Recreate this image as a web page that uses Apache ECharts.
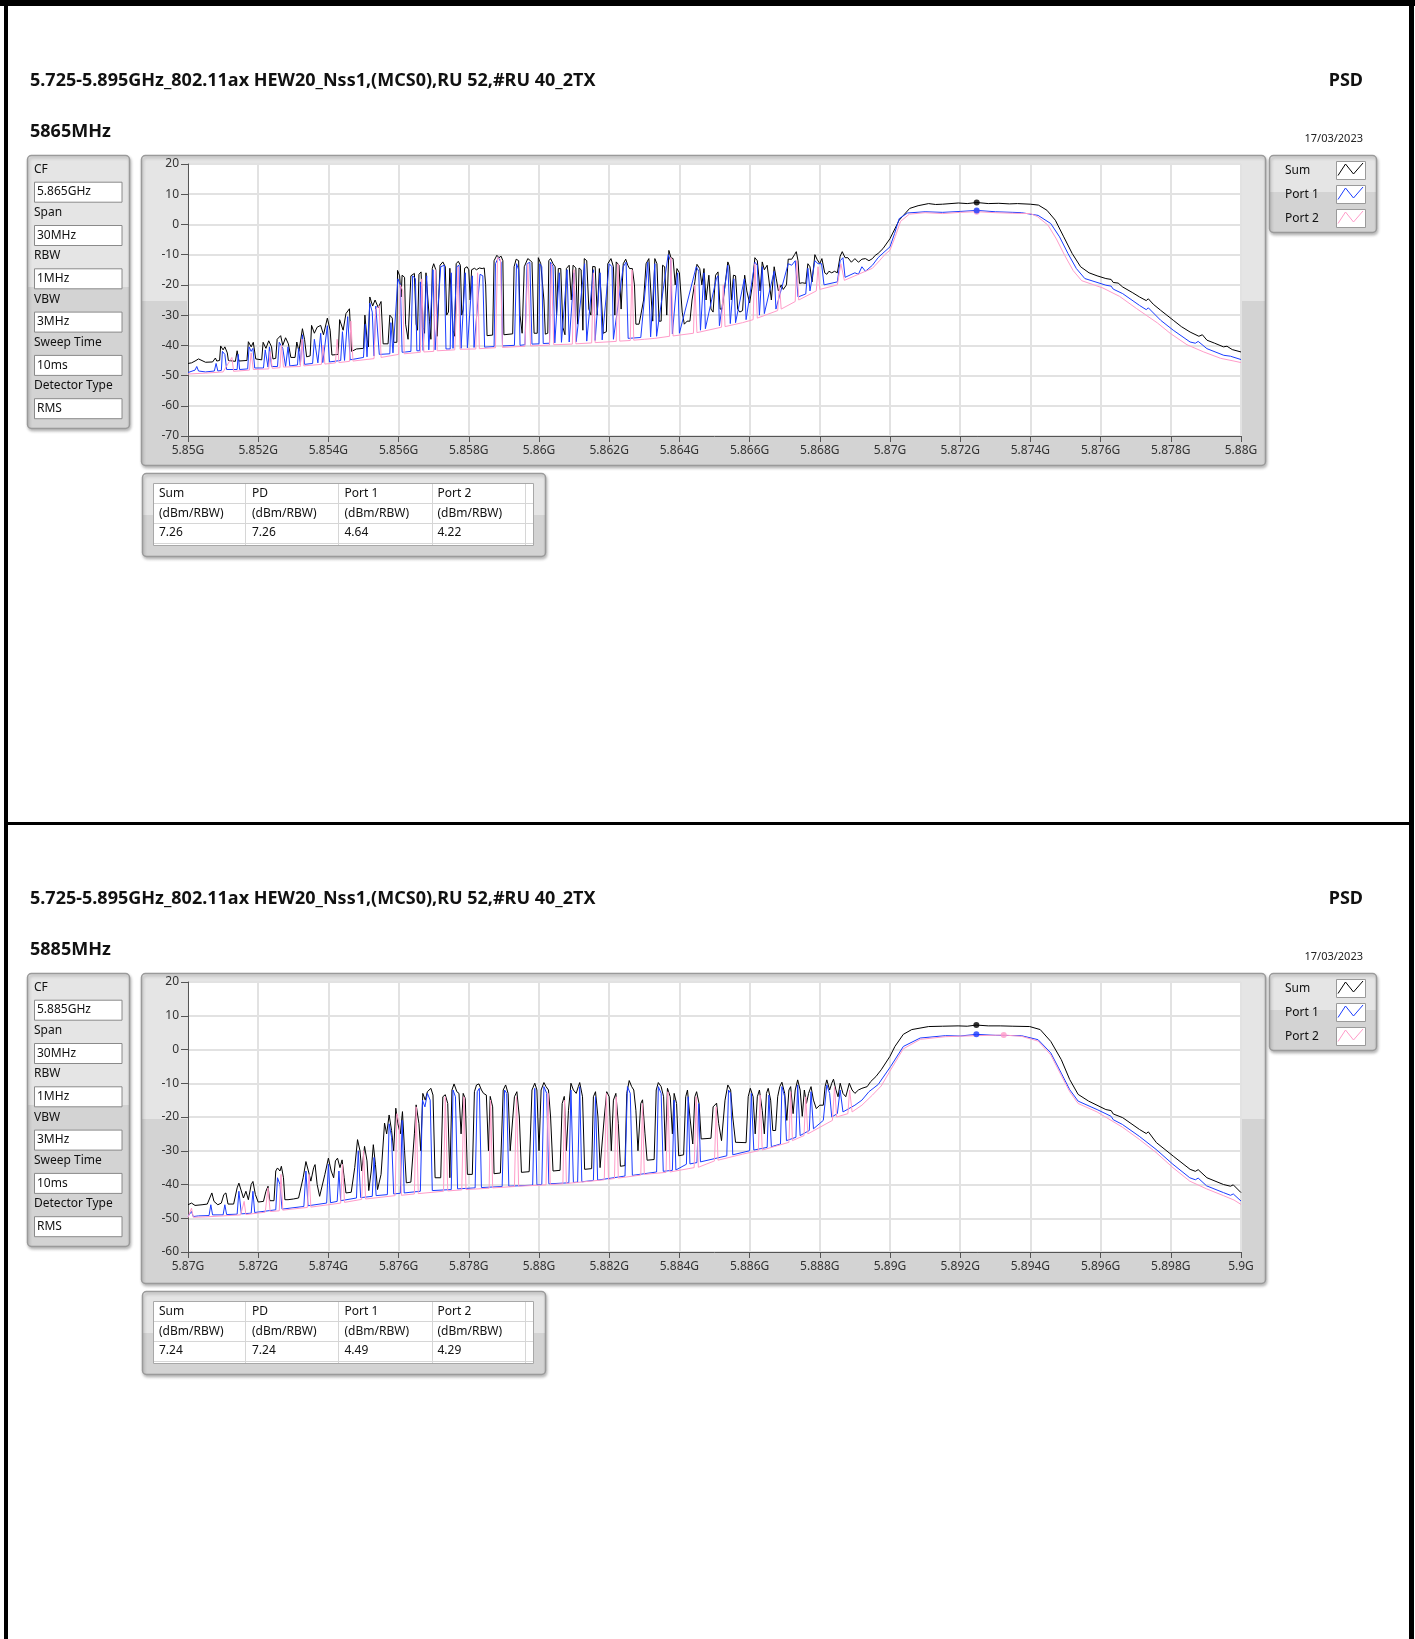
<!DOCTYPE html>
<html>
<head>
<meta charset="utf-8">
<script src="https://cdn.jsdelivr.net/npm/echarts@6/dist/echarts.min.js"></script>
<style>
  html, body { margin: 0; padding: 0; background: #fff; }
  #container { width: 1415px; height: 1639px; }
</style>
</head>
<body>
<div id="container"></div>
<script>
// ---------------- data ----------------
var PANEL_TITLE = '5.725-5.895GHz_802.11ax HEW20_Nss1,(MCS0),RU 52,#RU 40_2TX';
var CHANNELS = ['5865MHz', '5885MHz'];
var DATE_TEXT = '17/03/2023';
var PARAM_NAMES = ['CF', 'Span', 'RBW', 'VBW', 'Sweep Time', 'Detector Type'];
var PARAMS_1 = ['5.865GHz', '30MHz', '1MHz', '3MHz', '10ms', 'RMS'];
var PARAMS_2 = ['5.885GHz', '30MHz', '1MHz', '3MHz', '10ms', 'RMS'];
var LEGEND_NAMES = ['Sum', 'Port 1', 'Port 2'];
var TABLE_HEAD = ['Sum', 'PD', 'Port 1', 'Port 2'];
var TABLE_UNIT = '(dBm/RBW)';
var TABLE_1 = ['7.26', '7.26', '4.64', '4.22'];
var TABLE_2 = ['7.24', '7.24', '4.49', '4.29'];
var X_RANGE_1 = [5850, 5880];   // MHz
var X_RANGE_2 = [5870, 5900];
var Y_RANGE_1 = [-70, 20];      // dBm
var Y_RANGE_2 = [-60, 20];

// chart 1 (5865MHz) traces, [MHz, dBm]
var C1_SUM = [
[5850.0,-46.0],[5850.1,-45.8],[5850.2,-45.2],[5850.3,-44.5],[5850.35,-45.0],[5850.5,-45.6],[5850.7,-45.5],[5850.78,-44.2],[5850.82,-45.2],
[5850.9,-45.0],[5850.93,-40.2],[5851.0,-41.5],[5851.05,-40.5],[5851.12,-42.5],[5851.15,-45.0],[5851.35,-45.3],[5851.4,-41.8],[5851.45,-45.2],
[5851.68,-45.0],[5851.72,-38.8],[5851.8,-40.5],[5851.86,-39.0],[5851.93,-44.5],[5852.1,-44.8],[5852.14,-39.0],[5852.22,-41.0],[5852.3,-38.5],
[5852.38,-40.5],[5852.42,-44.5],[5852.5,-44.3],[5852.54,-38.0],[5852.64,-36.8],[5852.7,-40.0],[5852.78,-37.5],[5852.86,-39.5],[5852.93,-44.0],
[5853.05,-44.0],[5853.1,-38.9],[5853.16,-42.0],[5853.26,-34.5],[5853.32,-38.0],[5853.38,-43.8],[5853.48,-43.5],[5853.52,-33.4],[5853.6,-36.0],
[5853.68,-34.0],[5853.78,-33.4],[5853.86,-36.5],[5853.97,-31.0],[5854.05,-35.0],[5854.1,-43.2],[5854.28,-43.0],[5854.32,-31.5],[5854.42,-35.0],
[5854.5,-29.5],[5854.6,-27.9],[5854.66,-42.0],[5854.8,-41.2],[5855.0,-41.0],[5855.04,-30.0],[5855.1,-38.0],[5855.14,-40.5],[5855.18,-24.0],
[5855.26,-27.0],[5855.33,-25.0],[5855.42,-27.5],[5855.5,-25.5],[5855.56,-39.5],[5855.7,-39.5],[5855.75,-30.0],[5855.82,-31.0],[5855.86,-39.0],
[5855.95,-39],[5855.97,-15.2],[5856.03,-17],[5856.07,-24],[5856.1,-16.8],[5856.17,-17.5],[5856.2,-33],[5856.27,-38],[5856.32,-37.5],[5856.35,-17],
[5856.45,-16.2],[5856.5,-33],[5856.54,-35],[5856.58,-16.5],[5856.64,-15.7],[5856.7,-34],[5856.74,-36],[5856.78,-16],[5856.83,-15.7],[5856.88,-32],
[5856.92,-38],[5856.96,-14.5],[5857.0,-13],[5857.06,-15],[5857.1,-37],[5857.14,-36.5],[5857.18,-13.5],[5857.26,-12.4],[5857.33,-14],[5857.37,-30],
[5857.42,-29],[5857.46,-14.5],[5857.5,-14],[5857.55,-35],[5857.6,-37],[5857.64,-13],[5857.7,-12.2],[5857.76,-13.5],[5857.8,-30],[5857.84,-28],
[5857.88,-14.5],[5857.95,-14],[5858.0,-15],[5858.04,-25],[5858.08,-15],[5858.16,-14.5],[5858.22,-15],[5858.3,-14.4],[5858.38,-14.6],[5858.44,-14.4],
[5858.48,-20],[5858.52,-36.8],[5858.68,-36.6],[5858.72,-12],[5858.8,-10.2],[5858.86,-11],[5858.92,-10.5],[5858.97,-12],[5859.0,-36.5],[5859.25,-36.2],
[5859.29,-14],[5859.35,-11.5],[5859.42,-12],[5859.46,-30],[5859.52,-36],[5859.58,-14],[5859.68,-11.3],[5859.74,-11.8],[5859.8,-12.5],[5859.86,-36],
[5859.95,-36],[5859.98,-11],[5860.05,-13],[5860.1,-12.5],[5860.14,-25],[5860.18,-36.3],[5860.25,-36],[5860.28,-12],[5860.33,-11.3],[5860.4,-13],
[5860.46,-14],[5860.5,-30],[5860.55,-14.6],[5860.62,-14.6],[5860.68,-34],[5860.74,-36.5],[5860.78,-14.6],[5860.86,-13.5],[5860.92,-25],[5860.97,-13.5],
[5861.05,-14.4],[5861.1,-33],[5861.14,-14.4],[5861.2,-15],[5861.25,-35],[5861.29,-11.3],[5861.36,-12],[5861.42,-28],[5861.48,-30],[5861.53,-13.9],
[5861.6,-14],[5861.66,-30],[5861.72,-14.6],[5861.78,-25],[5861.83,-36],[5861.92,-35.5],[5861.96,-13],[5862.05,-11.3],[5862.12,-14],[5862.16,-30],
[5862.2,-12.4],[5862.28,-13.5],[5862.34,-28],[5862.4,-13],[5862.47,-11.5],[5862.53,-13.5],[5862.58,-14.6],[5862.66,-14.6],[5862.72,-20],[5862.76,-33],
[5862.85,-33],[5862.9,-30],[5862.98,-25],[5863.05,-13],[5863.13,-11.3],[5863.2,-25],[5863.24,-32],[5863.3,-11.3],[5863.36,-13],[5863.42,-32],
[5863.48,-32],[5863.52,-13.5],[5863.58,-14],[5863.64,-30],[5863.7,-8.6],[5863.76,-11],[5863.82,-11.3],[5863.88,-20],[5863.93,-14.6],[5864.0,-16],
[5864.08,-29],[5864.14,-33],[5864.22,-32],[5864.3,-32],[5864.36,-25],[5864.44,-19],[5864.5,-13.2],[5864.58,-14.6],[5864.64,-20],[5864.7,-14.6],
[5864.76,-25],[5864.84,-16.8],[5864.9,-28],[5864.96,-29],[5865.03,-16.8],[5865.1,-15.7],[5865.16,-28],[5865.22,-28],[5865.3,-20],[5865.38,-12.4],
[5865.43,-14],[5865.48,-25],[5865.54,-16.8],[5865.6,-17],[5865.66,-28],[5865.72,-29],[5865.8,-28.5],[5865.86,-16.8],[5865.92,-22],[5866.0,-26],
[5866.08,-20],[5866.15,-11],[5866.22,-12],[5866.3,-22],[5866.36,-12.4],[5866.42,-15],[5866.5,-13.5],[5866.55,-14],[5866.62,-25],[5866.7,-14],
[5866.76,-18],[5866.82,-22],[5866.9,-20],[5866.96,-21.5],[5867.05,-20],[5867.1,-11.5],[5867.2,-11.5],[5867.28,-10],[5867.33,-9],[5867.38,-12],
[5867.42,-19.5],[5867.5,-19.3],[5867.6,-19.5],[5867.66,-13],[5867.72,-14],[5867.78,-19],[5867.86,-10],[5867.92,-11.5],[5868.0,-13],[5868.06,-11.3],
[5868.14,-16],[5868.2,-16.5],[5868.26,-15.5],[5868.34,-16],[5868.42,-15.5],[5868.5,-16],[5868.58,-10.5],[5868.64,-9],[5868.72,-11],[5868.8,-11],
[5868.9,-12.5],[5869.0,-11.3],[5869.1,-12.5],[5869.2,-11.5],[5869.3,-11.3],[5869.4,-12],[5869.5,-11.3],[5869.58,-10.2],[5869.66,-9.6],[5869.8,-8],
[5870.0,-4.7],[5870.26,1.4],[5870.56,5.3],[5870.8,6.2],[5871.1,6.9],[5871.3,6.6],[5871.5,6.7],[5871.95,7.1],[5872.2,6.9],[5872.47,7.26],
[5872.8,6.9],[5873.1,7.0],[5873.4,6.8],[5873.63,6.9],[5874.0,6.7],[5874.23,6.4],[5874.47,4.7],[5874.71,1.4],[5874.95,-4.1],[5875.19,-9.6],
[5875.43,-14],[5875.67,-16],[5875.9,-17],[5876.15,-17.9],[5876.3,-18.2],[5876.36,-19.2],[5876.5,-19.4],[5876.63,-20.7],[5876.9,-22.5],[5877.11,-24],
[5877.3,-25.2],[5877.36,-24.6],[5877.5,-26.4],[5877.71,-28.4],[5878.07,-31.7],[5878.3,-33.8],[5878.55,-35.6],[5878.8,-37],[5878.9,-36.5],[5879.03,-38.3],
[5879.25,-39.3],[5879.5,-40.5],[5879.6,-40.3],[5879.75,-41.4],[5880.0,-42.2]
];
var C1_P1 = [
[5850.0,-49],[5850.2,-48.2],[5850.25,-47],[5850.3,-48.5],[5850.5,-48.8],[5850.75,-48.5],[5850.8,-46],[5850.85,-48.5],[5850.95,-48.3],[5850.98,-42],
[5851.05,-43],[5851.1,-48],[5851.4,-48],[5851.43,-43],[5851.47,-48],[5851.7,-47.8],[5851.74,-40.5],[5851.8,-42],[5851.85,-41],[5851.9,-47.5],
[5852.15,-47.5],[5852.2,-41.5],[5852.28,-47.2],[5852.32,-40.5],[5852.38,-47],[5852.55,-47],[5852.6,-39],[5852.7,-41],[5852.78,-47],[5852.85,-40.5],
[5852.9,-46.8],[5853.12,-46.5],[5853.15,-41],[5853.2,-46.5],[5853.26,-36.5],[5853.32,-46.3],[5853.55,-46],[5853.6,-38],[5853.7,-45.8],[5853.78,-36],
[5853.84,-45.7],[5853.97,-33.5],[5854.03,-45.5],[5854.35,-45],[5854.4,-35.5],[5854.46,-45],[5854.55,-30.5],[5854.62,-44.8],[5855.0,-44],[5855.05,-33],
[5855.1,-43.8],[5855.18,-26],[5855.25,-29],[5855.3,-43.5],[5855.35,-27],[5855.45,-43],[5855.75,-42.8],[5855.78,-32.5],[5855.84,-42.5],[5855.98,-18],
[5856.05,-20],[5856.1,-42.3],[5856.2,-42.2],[5856.35,-42],[5856.4,-17],[5856.48,-18],[5856.52,-41.8],[5856.6,-41.8],[5856.62,-19],[5856.7,-41.7],
[5856.8,-17],[5856.86,-41.5],[5856.98,-15],[5857.04,-41.5],[5857.2,-14],[5857.3,-13.5],[5857.35,-41.2],[5857.47,-41.2],[5857.5,-16],[5857.55,-41],
[5857.66,-14],[5857.72,-13.5],[5857.78,-41],[5857.9,-16],[5857.96,-40.8],[5858.1,-17],[5858.15,-40.7],[5858.32,-16.5],[5858.4,-17],[5858.45,-40.6],
[5858.72,-40.4],[5858.76,-13],[5858.84,-11],[5858.92,-12.5],[5858.96,-40.2],[5859.3,-40],[5859.36,-13],[5859.42,-15],[5859.46,-40],[5859.6,-39.8],
[5859.66,-13],[5859.74,-12.5],[5859.8,-39.6],[5860.0,-39.5],[5860.02,-13],[5860.08,-14],[5860.12,-39.4],[5860.3,-39.3],[5860.33,-12.5],[5860.4,-14],
[5860.45,-39.2],[5860.58,-16],[5860.64,-39],[5860.8,-15],[5860.86,-38.9],[5861.0,-16],[5861.06,-38.8],[5861.3,-13],[5861.36,-38.6],[5861.55,-15],
[5861.6,-38.4],[5861.74,-16],[5861.8,-38.2],[5862.0,-13],[5862.08,-14],[5862.12,-38],[5862.4,-14],[5862.48,-12.5],[5862.54,-37.7],[5862.9,-37.4],
[5863.1,-12.5],[5863.18,-37.2],[5863.3,-13],[5863.35,-37],[5863.68,-10],[5863.75,-12],[5863.8,-36.2],[5863.95,-16],[5864.0,-36],[5864.48,-14],
[5864.55,-15.5],[5864.6,-35],[5864.7,-16],[5864.74,-34.5],[5865.05,-18],[5865.1,-17],[5865.14,-33.5],[5865.38,-13.5],[5865.45,-32.8],[5865.55,-18],
[5865.6,-32.5],[5865.85,-18],[5865.9,-31.5],[5866.15,-12.5],[5866.22,-13.5],[5866.28,-30],[5866.36,-14],[5866.42,-29.5],[5866.7,-15.5],[5866.75,-28],
[5867.1,-13],[5867.2,-13.5],[5867.3,-12],[5867.38,-24],[5867.6,-23],[5867.66,-14.5],[5867.72,-22],[5867.86,-12],[5867.95,-13],[5868.05,-13],
[5868.12,-20],[5868.5,-19],[5868.58,-12],[5868.66,-11],[5868.72,-17.5],[5869.0,-16],[5869.1,-16.5],[5869.2,-14],[5869.3,-15.5],[5869.5,-13.5],
[5869.66,-11],[5869.8,-9.5],[5870.0,-7.4],[5870.13,-3],[5870.26,1.9],[5870.5,3.8],[5871.0,4.2],[5871.5,4.0],[5872.0,4.3],[5872.47,4.64],
[5873.0,4.2],[5873.5,4.0],[5873.74,3.9],[5874.22,3.0],[5874.58,0.3],[5874.83,-4.1],[5875.07,-9.6],[5875.31,-14.6],[5875.55,-17.9],[5876.15,-20.1],
[5876.3,-20.4],[5876.36,-21.4],[5876.63,-22.9],[5877.11,-26.8],[5877.3,-28.2],[5877.36,-27.6],[5877.71,-31.7],[5878.07,-35],[5878.55,-38.9],[5878.7,-39.3],
[5878.78,-38.7],[5879.03,-41.1],[5879.51,-43.3],[5879.7,-43.6],[5880.0,-44.7]
];
var C1_P2 = [
[5850.0,-49.5],[5850.5,-49.2],[5851.0,-48.8],[5851.25,-44],[5851.3,-48.6],[5851.75,-48.2],[5851.8,-42.5],[5851.86,-48],[5852.3,-47.8],[5852.34,-42],
[5852.4,-47.6],[5852.62,-47.4],[5852.66,-40],[5852.72,-47.2],[5853.2,-47],[5853.25,-38],[5853.3,-46.8],[5853.8,-46.3],[5853.85,-40],[5853.9,-46.2],
[5854.2,-45.8],[5854.25,-38],[5854.3,-45.7],[5854.6,-45.3],[5854.64,-32],[5854.7,-45.2],[5855.3,-44.4],[5855.35,-28],[5855.45,-27],[5855.5,-44],
[5856.0,-43],[5856.05,-20],[5856.12,-22],[5856.16,-42.8],[5856.62,-42.3],[5856.66,-18],[5856.72,-42.2],[5857.0,-42],[5857.05,-15],[5857.1,-41.8],
[5857.6,-41.5],[5857.7,-14],[5857.75,-41.3],[5858.2,-41.2],[5858.25,-16],[5858.3,-41.1],[5858.76,-40.8],[5858.82,-11],[5858.9,-11.5],[5858.96,-40.7],
[5859.6,-40.3],[5859.68,-13],[5859.76,-40.2],[5860.3,-39.9],[5860.35,-13],[5860.42,-39.8],[5860.95,-39.6],[5861.0,-15],[5861.05,-39.5],[5861.5,-39.2],
[5861.55,-16],[5861.6,-39.1],[5862.2,-38.7],[5862.25,-13],[5862.3,-38.6],[5862.6,-38.4],[5862.65,-15],[5862.7,-38.3],[5863.0,-38],[5863.3,-37.7],
[5863.72,-37],[5863.76,-11],[5863.82,-36.9],[5864.4,-36],[5864.44,-20],[5864.5,-35.8],[5865.2,-34],[5865.25,-20],[5865.3,-33.8],[5865.8,-32.5],
[5866.1,-31.5],[5866.15,-13],[5866.22,-31],[5866.8,-28.5],[5866.85,-20],[5866.9,-28],[5867.3,-25.5],[5867.34,-12],[5867.4,-25],[5867.9,-22],
[5867.95,-14],[5868.0,-21.5],[5868.5,-20],[5868.6,-13],[5868.7,-18.5],[5869.0,-17],[5869.3,-15.5],[5869.5,-14.5],[5869.7,-12],[5869.85,-10],
[5870.0,-8.5],[5870.15,-4],[5870.3,1.0],[5870.55,3.4],[5871.0,3.9],[5871.5,3.6],[5872.0,4.0],[5872.47,4.22],[5873.0,3.9],[5873.5,3.7],
[5874.0,3.6],[5874.2,2.6],[5874.5,-0.2],[5874.74,-4.8],[5874.98,-10.3],[5875.22,-15.3],[5875.46,-18.6],[5876.06,-21],[5876.54,-23.8],[5877.02,-27.8],
[5877.62,-32.6],[5877.98,-36],[5878.46,-39.8],[5878.94,-42.2],[5879.42,-44.3],[5879.8,-45.2],[5880.0,-45.7]
];
var C1_PEAKS = [[5872.47, 7.26], [5872.47, 4.64], [5872.47, 4.22]];

// chart 2 (5885MHz) traces, [MHz, dBm]
var C2_SUM = [
[5870.0,-46],[5870.1,-45.5],[5870.2,-46.2],[5870.4,-46],[5870.55,-45.8],[5870.62,-44],[5870.68,-42.5],[5870.74,-45],[5870.85,-46],[5870.95,-45.5],
[5871.02,-43],[5871.08,-42.5],[5871.14,-45.8],[5871.3,-45.8],[5871.4,-41],[5871.45,-39.6],[5871.5,-40],[5871.58,-44],[5871.65,-42],[5871.72,-44.5],
[5871.8,-40],[5871.85,-39.1],[5871.92,-43],[5872.0,-45.2],[5872.15,-45],[5872.22,-42],[5872.28,-40.5],[5872.33,-44.8],[5872.45,-44.8],[5872.5,-36],
[5872.55,-35.1],[5872.62,-36],[5872.66,-34.6],[5872.72,-38],[5872.76,-44.5],[5872.85,-44.5],[5873.0,-44.3],[5873.15,-44],[5873.28,-38],[5873.36,-33.2],
[5873.43,-36],[5873.5,-39],[5873.58,-35],[5873.62,-34.1],[5873.68,-40],[5873.75,-43.5],[5873.9,-37],[5874.0,-32.2],[5874.08,-36],[5874.15,-38],
[5874.2,-33],[5874.26,-32.2],[5874.33,-35],[5874.39,-32.7],[5874.45,-38],[5874.5,-42.5],[5874.65,-42.3],[5874.75,-35],[5874.83,-26.7],[5874.9,-30],
[5874.95,-36],[5875.03,-28.7],[5875.1,-33],[5875.15,-41.8],[5875.22,-36],[5875.28,-28.2],[5875.34,-34],[5875.4,-41.5],[5875.5,-37],[5875.6,-21.8],
[5875.66,-25],[5875.73,-19.4],[5875.8,-24],[5875.86,-30],[5875.92,-17.4],[5875.98,-22],[5876.05,-25],[5876.11,-18.4],[5876.17,-30],[5876.22,-39.5],
[5876.35,-39.3],[5876.45,-25],[5876.5,-16.4],[5876.58,-22],[5876.63,-30],[5876.69,-13],[5876.76,-15],[5876.82,-12.5],[5876.92,-11.5],[5876.98,-13.5],
[5877.04,-38],[5877.2,-38],[5877.26,-14],[5877.33,-13.4],[5877.4,-16],[5877.46,-38],[5877.52,-12],[5877.58,-10.2],[5877.66,-12.5],[5877.72,-13],
[5877.78,-25],[5877.84,-13],[5877.9,-14.5],[5877.96,-37],[5878.1,-37],[5878.16,-12.5],[5878.22,-10.5],[5878.29,-10.2],[5878.36,-12],[5878.42,-13],
[5878.5,-13.5],[5878.56,-30],[5878.61,-13.9],[5878.68,-17],[5878.72,-36.8],[5878.9,-36.6],[5878.98,-12],[5879.05,-10.5],[5879.12,-13],[5879.18,-30],
[5879.3,-14],[5879.37,-12.5],[5879.44,-20],[5879.5,-36.4],[5879.72,-36.2],[5879.8,-12],[5879.88,-10],[5879.94,-12],[5880.0,-30],[5880.06,-12],
[5880.14,-9.8],[5880.2,-11],[5880.27,-12],[5880.33,-20],[5880.4,-36],[5880.6,-35.8],[5880.66,-16],[5880.72,-13.9],[5880.78,-30],[5880.84,-18],
[5880.91,-10],[5880.98,-12],[5881.06,-13],[5881.12,-11],[5881.16,-9.8],[5881.24,-14],[5881.3,-35.5],[5881.5,-35.3],[5881.55,-14],[5881.61,-12.5],
[5881.68,-20],[5881.74,-35],[5881.86,-20],[5881.93,-12.5],[5882.0,-14],[5882.06,-30],[5882.12,-15],[5882.19,-13],[5882.26,-22],[5882.32,-34.6],
[5882.45,-34.4],[5882.5,-13],[5882.57,-9.2],[5882.64,-11],[5882.7,-12],[5882.76,-18],[5882.82,-30],[5882.9,-16],[5882.95,-14.9],[5883.02,-25],
[5883.08,-32.8],[5883.28,-32.6],[5883.34,-12],[5883.4,-9.8],[5883.48,-11],[5883.55,-14],[5883.6,-30],[5883.66,-11.5],[5883.74,-14],[5883.8,-25],
[5883.85,-13],[5883.92,-16],[5883.98,-31.5],[5884.12,-31.2],[5884.18,-14],[5884.23,-12],[5884.3,-20],[5884.38,-28],[5884.44,-14],[5884.49,-12.5],
[5884.56,-16],[5884.62,-26.5],[5884.9,-26.3],[5884.96,-17],[5885.06,-15.9],[5885.12,-22],[5885.2,-27],[5885.3,-15],[5885.38,-10.5],[5885.46,-12],
[5885.52,-20],[5885.6,-27.5],[5885.9,-27.6],[5885.96,-14],[5886.02,-11.5],[5886.1,-14],[5886.16,-25],[5886.22,-14],[5886.28,-12],[5886.36,-18],
[5886.42,-25],[5886.48,-13],[5886.53,-11.5],[5886.6,-15],[5886.66,-24],[5886.74,-24],[5886.8,-14],[5886.86,-11],[5886.92,-9.7],[5887.0,-13],
[5887.06,-21],[5887.12,-12],[5887.17,-11],[5887.24,-19],[5887.3,-12],[5887.37,-9],[5887.44,-12],[5887.5,-19.8],[5887.56,-12],[5887.62,-16],
[5887.68,-13],[5887.75,-11],[5887.82,-15],[5887.9,-17.5],[5888.0,-16.5],[5888.1,-16.5],[5888.15,-11],[5888.2,-9],[5888.28,-12],[5888.34,-10],
[5888.39,-8.8],[5888.46,-12],[5888.52,-14],[5888.58,-10],[5888.66,-13],[5888.74,-14],[5888.84,-10],[5888.92,-12],[5889.0,-13],[5889.1,-12],
[5889.2,-11.5],[5889.35,-11],[5889.45,-9.5],[5889.6,-8],[5889.75,-6],[5890.0,-2],[5890.14,0.9],[5890.38,4.5],[5890.62,5.9],[5891.1,6.8],
[5891.5,6.9],[5891.94,7.0],[5892.2,6.9],[5892.46,7.24],[5892.8,7.0],[5893.14,7.0],[5893.5,6.9],[5893.98,6.8],[5894.28,5.9],[5894.58,2.4],
[5894.88,-3],[5895.12,-8.9],[5895.36,-13.3],[5895.66,-15.3],[5896.15,-17.8],[5896.3,-18.1],[5896.36,-19.1],[5896.63,-20.2],[5897.11,-23.7],[5897.3,-24.9],
[5897.36,-24.4],[5897.59,-27.6],[5898.07,-31.6],[5898.55,-35.5],[5898.7,-36.1],[5898.78,-35.6],[5899.03,-38],[5899.5,-40],[5899.7,-40.5],[5899.78,-40.1],
[5900.0,-42.4]
];
var C2_P1 = [
[5870.0,-49.4],[5870.1,-48],[5870.15,-49.5],[5870.3,-49.3],[5870.6,-49.2],[5870.65,-46],[5870.7,-49],[5871.0,-49],[5871.05,-46],[5871.1,-48.9],
[5871.4,-48.8],[5871.45,-42],[5871.52,-48.7],[5871.8,-48.5],[5871.85,-42],[5871.9,-48.3],[5872.5,-47.5],[5872.55,-38],[5872.62,-40],[5872.68,-47.3],
[5873.3,-46.5],[5873.36,-36],[5873.42,-46.3],[5873.95,-45.5],[5874.0,-34],[5874.06,-45.4],[5874.25,-45],[5874.3,-36],[5874.35,-44.8],[5874.8,-44],
[5874.85,-30],[5874.92,-43.9],[5875.25,-43.5],[5875.3,-32],[5875.36,-43.3],[5875.68,-43],[5875.73,-22],[5875.8,-26],[5875.86,-42.8],[5876.05,-42.6],
[5876.1,-21],[5876.16,-42.5],[5876.62,-42],[5876.68,-15],[5876.75,-17],[5876.82,-13],[5876.9,-15],[5876.96,-41.8],[5877.5,-41.5],[5877.55,-12],
[5877.62,-14],[5877.68,-41.3],[5878.18,-41],[5878.24,-12.5],[5878.3,-11.5],[5878.36,-40.9],[5878.95,-40.6],[5879.02,-12],[5879.08,-13],[5879.14,-40.5],
[5879.82,-40.2],[5879.88,-11.5],[5879.94,-40.1],[5880.08,-40],[5880.14,-11],[5880.22,-13],[5880.28,-39.8],[5880.85,-39.5],[5880.91,-12],[5880.98,-39.4],
[5881.1,-39.3],[5881.16,-11],[5881.22,-39.2],[5881.55,-38.8],[5881.61,-14],[5881.67,-38.7],[5882.45,-37.5],[5882.52,-11],[5882.6,-13],[5882.66,-37.3],
[5883.35,-36.3],[5883.4,-11],[5883.48,-13],[5883.54,-36.1],[5883.8,-35.8],[5883.85,-15],[5883.9,-35.7],[5884.2,-34],[5884.25,-14],[5884.3,-33.9],
[5884.5,-33.5],[5884.55,-16],[5884.6,-33.3],[5885.35,-31.5],[5885.4,-12],[5885.46,-13],[5885.52,-31.2],[5886.0,-30],[5886.05,-13],[5886.12,-29.8],
[5886.5,-29],[5886.55,-13.5],[5886.62,-28.8],[5886.88,-28],[5886.92,-11],[5887.0,-14],[5887.05,-27],[5887.32,-26],[5887.37,-10.5],[5887.44,-25.5],
[5887.7,-24],[5887.75,-12.5],[5887.82,-23.5],[5888.1,-21],[5888.2,-10.5],[5888.28,-13],[5888.34,-20],[5888.5,-19],[5888.58,-12],[5888.66,-18.5],
[5889.0,-16.5],[5889.2,-15],[5889.4,-12.5],[5889.66,-10.4],[5890.02,-5],[5890.38,0.9],[5890.86,3.4],[5891.58,4.1],[5892.0,4.0],[5892.46,4.49],
[5893.0,4.2],[5893.74,4.1],[5894.22,2.9],[5894.58,-1],[5894.88,-7],[5895.12,-11.9],[5895.36,-15.3],[5895.9,-17.8],[5896.3,-19.8],[5896.36,-20.8],
[5896.62,-22.2],[5897.1,-25.7],[5897.58,-29.6],[5898.06,-34],[5898.54,-38],[5898.7,-38.6],[5898.78,-38.1],[5899.02,-40.4],[5899.5,-42.4],[5899.7,-43.2],
[5899.78,-42.8],[5900.0,-44.9]
];
var C2_P2 = [
[5870.0,-49.8],[5870.1,-47],[5870.15,-49.7],[5870.5,-49.6],[5871.0,-49.3],[5871.5,-49],[5871.6,-45],[5871.65,-48.9],[5872.2,-48.2],[5872.28,-41],
[5872.34,-48],[5872.6,-47.8],[5872.65,-37],[5872.7,-47.6],[5873.4,-46.8],[5873.45,-37],[5873.5,-46.7],[5874.35,-45.5],[5874.4,-34],[5874.46,-45.3],
[5874.95,-44.4],[5875.0,-30],[5875.06,-44.3],[5875.9,-43.3],[5875.95,-19],[5876.02,-22],[5876.08,-43.2],[5876.45,-42.8],[5876.5,-17],[5876.56,-42.7],
[5877.28,-42],[5877.33,-14],[5877.4,-41.9],[5877.8,-41.6],[5877.86,-14],[5877.92,-41.5],[5878.58,-41.1],[5878.62,-15],[5878.68,-41],[5879.3,-40.6],
[5879.36,-14],[5879.42,-40.5],[5880.2,-40.1],[5880.26,-13],[5880.32,-40],[5880.68,-39.8],[5880.73,-15],[5880.78,-39.7],[5881.86,-38.6],[5881.92,-13],
[5881.98,-38.5],[5882.15,-38.2],[5882.2,-14],[5882.26,-38.1],[5882.9,-37.2],[5882.95,-16],[5883.0,-37],[5883.62,-36.4],[5883.67,-12.5],[5883.73,-36.3],
[5884.42,-35],[5884.48,-14],[5884.54,-34.9],[5885.0,-33],[5885.05,-17],[5885.1,-32.8],[5885.8,-31],[5886.25,-30],[5886.3,-13.5],[5886.36,-29.8],
[5887.12,-27.5],[5887.17,-12.5],[5887.22,-27],[5887.55,-25.5],[5887.6,-14],[5887.66,-25],[5888.36,-21],[5888.42,-11],[5888.48,-20],[5888.8,-19],
[5888.85,-12],[5888.92,-18.5],[5889.2,-16.5],[5889.5,-13.5],[5889.75,-10.8],[5890.02,-6],[5890.38,0.2],[5890.86,3.0],[5891.58,3.8],[5892.46,4.1],
[5893.24,4.29],[5893.75,3.9],[5894.22,2.5],[5894.58,-1.6],[5894.88,-7.7],[5895.12,-12.5],[5895.36,-16],[5895.9,-18.5],[5896.62,-23],[5897.1,-26.6],
[5897.58,-30.5],[5898.06,-35],[5898.54,-39],[5899.02,-41.3],[5899.5,-43.3],[5899.8,-44.6],[5900.0,-45.9]
];
var C2_PEAKS = [[5892.46, 7.24], [5892.46, 4.49], [5893.24, 4.29]];

// ---------------- styling ----------------
var TRACE_COLORS = ['#000000', '#1a3cff', '#ff9cc9'];
var PANEL_LIGHT = '#e5e5e5';
var PANEL_DARK = '#d3d3d3';
var FONT = '"Noto Sans", "Open Sans", sans-serif';
var OFFSET_2 = 818;   // vertical offset of the second block

var dom = document.getElementById('container');
var myChart = echarts.init(dom, null, { renderer: 'canvas' });

function txt(x, y, s, size, opts) {
    opts = opts || {};
    return {
        type: 'text', x: x, y: y, z: 5,
        style: {
            text: s,
            font: (opts.bold ? 'bold ' : '') + size + 'px ' + FONT,
            fill: opts.color || '#111',
            align: opts.align || 'left',
            verticalAlign: 'middle'
        }
    };
}

function panel(x, y, w, h, split) {
    return {
        type: 'rect', z: -5,
        shape: { x: x + 0.5, y: y + 0.5, width: w, height: h, r: 4 },
        style: {
            fill: new echarts.graphic.LinearGradient(0, 0, 0, 1, [
                { offset: 0, color: PANEL_LIGHT }, { offset: split, color: PANEL_LIGHT },
                { offset: split, color: PANEL_DARK }, { offset: 1, color: PANEL_DARK }
            ]),
            stroke: '#9a9a9a', lineWidth: 1.5,
            shadowBlur: 3, shadowOffsetX: 1, shadowOffsetY: 2, shadowColor: 'rgba(0,0,0,0.25)'
        }
    };
}

function box(x, y, w, h, stroke) {
    return {
        type: 'rect', z: -2,
        shape: { x: x + 0.5, y: y + 0.5, width: w, height: h },
        style: { fill: '#ffffff', stroke: stroke || '#8a8a8a', lineWidth: 1 }
    };
}

function hline(x1, x2, y, color, w) {
    return { type: 'line', z: -1, shape: { x1: x1, y1: y + 0.5, x2: x2, y2: y + 0.5 },
        style: { stroke: color, lineWidth: w || 1 } };
}
function vline(x, y1, y2, color, w) {
    return { type: 'line', z: -1, shape: { x1: x + 0.5, y1: y1, x2: x + 0.5, y2: y2 },
        style: { stroke: color, lineWidth: w || 1 } };
}

function block(dy, channel, params, values) {
    var g = [];
    g.push(txt(30, 81 + dy, PANEL_TITLE, 18, { bold: true }));
    g.push(txt(1363, 81 + dy, 'PSD', 18, { bold: true, align: 'right' }));
    g.push(txt(30, 132 + dy, channel, 18, { bold: true }));
    g.push(txt(1363, 139 + dy, DATE_TEXT, 11, { align: 'right', color: '#222' }));

    // parameter panel
    g.push(panel(27, 155 + dy, 102, 273, 0.48));
    for (var i = 0; i < PARAM_NAMES.length; i++) {
        var ly = 169.3 + 43.3 * i + dy;
        g.push(txt(34, ly, PARAM_NAMES[i], 12));
        g.push(box(34, 181.7 + 43.3 * i + dy, 87.5, 20));
        g.push(txt(37, 192 + 43.3 * i + dy, params[i], 12));
    }

    // graph panel
    g.push(panel(141, 155 + dy, 1124, 310, 0.47));

    // legend panel
    g.push(panel(1269, 155 + dy, 107, 77, 0.48));
    var legY = [171, 194.5, 218.5];
    var iconY = [161, 185, 209];
    for (var k = 0; k < LEGEND_NAMES.length; k++) {
        g.push(txt(1285, legY[k] + dy, LEGEND_NAMES[k], 12));
        g.push(box(1336, iconY[k] + dy, 29, 18, '#9a9a9a'));
        var by = iconY[k] + dy, bx = 1336;
        g.push({
            type: 'polyline', z: 0,
            shape: { points: [[bx + 2, by + 14.5], [bx + 9.5, by + 3], [bx + 17.5, by + 13], [bx + 27, by + 2]] },
            style: { stroke: TRACE_COLORS[k], lineWidth: 1, fill: null }
        });
    }

    // result table
    g.push(panel(142, 473 + dy, 403, 83, 0.5));
    g.push(box(153, 483 + dy, 380, 62, '#a8a8a8'));
    [503, 523, 543].forEach(function (y) { g.push(hline(154, 533, y + dy, '#d6d6d6')); });
    [245, 338, 432, 525].forEach(function (x) { g.push(vline(x, 484 + dy, 545 + dy, '#d6d6d6')); });
    var colX = [159, 252, 344.5, 437.5];
    for (var c = 0; c < 4; c++) {
        g.push(txt(colX[c], 493.3 + dy, TABLE_HEAD[c], 12));
        g.push(txt(colX[c], 513.3 + dy, TABLE_UNIT, 12));
        g.push(txt(colX[c], 532.7 + dy, values[c], 12));
    }
    return g;
}

var graphics = [];
// outer frame
graphics.push({ type: 'rect', z: 6, shape: { x: 0, y: 0, width: 1415, height: 6 }, style: { fill: '#000' } });
graphics.push({ type: 'rect', z: 6, shape: { x: 4, y: 0, width: 4, height: 1639 }, style: { fill: '#000' } });
graphics.push({ type: 'rect', z: 6, shape: { x: 1409, y: 0, width: 5, height: 1639 }, style: { fill: '#000' } });
graphics.push({ type: 'rect', z: 6, shape: { x: 4, y: 822, width: 1410, height: 3 }, style: { fill: '#000' } });
graphics = graphics.concat(block(0, CHANNELS[0], PARAMS_1, TABLE_1));
graphics = graphics.concat(block(OFFSET_2, CHANNELS[1], PARAMS_2, TABLE_2));

function xAxisFor(idx, range) {
    return {
        type: 'value', gridIndex: idx, min: range[0], max: range[1], interval: 2,
        axisLine: { show: true, onZero: false, lineStyle: { color: '#555', width: 1 } },
        axisTick: { show: true, inside: false, length: 6, lineStyle: { color: '#555' } },
        axisLabel: {
            show: true, margin: 9, color: '#333', fontSize: 12, fontFamily: FONT,
            showMinLabel: true, showMaxLabel: true, hideOverlap: false,
            formatter: function (v) { return (v / 1000) + 'G'; }
        },
        splitLine: { show: true, lineStyle: { color: '#e2e2e2', width: 2 } }
    };
}
function yAxisFor(idx, range) {
    return {
        type: 'value', gridIndex: idx, min: range[0], max: range[1], interval: 10,
        axisLine: { show: true, onZero: false, lineStyle: { color: '#555', width: 1 } },
        axisTick: { show: true, inside: false, length: 7, lineStyle: { color: '#555' } },
        axisLabel: { show: true, margin: 9, color: '#333', fontSize: 12, fontFamily: FONT,
            showMinLabel: true, showMaxLabel: true },
        splitLine: { show: true, lineStyle: { color: '#e2e2e2', width: 2 } }
    };
}

function trace(idx, data, colorIdx, name) {
    return {
        type: 'line', name: name, xAxisIndex: idx, yAxisIndex: idx, data: data,
        showSymbol: false, symbol: 'none', silent: true, animation: false,
        lineStyle: { color: TRACE_COLORS[colorIdx], width: 1 },
        itemStyle: { color: TRACE_COLORS[colorIdx] }, z: 2 + colorIdx
    };
}
function peaks(idx, data) {
    // pink first so that blue and black markers sit on top
    var pts = data.map(function (p, i) {
        return { value: p, itemStyle: { color: TRACE_COLORS[i] } };
    }).reverse();
    return {
        type: 'scatter', xAxisIndex: idx, yAxisIndex: idx, silent: true, animation: false,
        symbolSize: 6, z: 10, data: pts
    };
}

option = {
    backgroundColor: '#ffffff',
    animation: false,
    textStyle: { fontFamily: FONT },
    graphic: { elements: graphics },
    grid: [
        { left: 188, top: 164, width: 1053, height: 272, show: true, backgroundColor: '#fff',
          borderColor: '#a8a8a8', borderWidth: 1 },
        { left: 188, top: 164 + OFFSET_2, width: 1053, height: 270, show: true, backgroundColor: '#fff',
          borderColor: '#a8a8a8', borderWidth: 1 }
    ],
    xAxis: [xAxisFor(0, X_RANGE_1), xAxisFor(1, X_RANGE_2)],
    yAxis: [yAxisFor(0, Y_RANGE_1), yAxisFor(1, Y_RANGE_2)],
    series: [
        trace(0, C1_SUM, 0, 'Sum'), trace(0, C1_P1, 1, 'Port 1'), trace(0, C1_P2, 2, 'Port 2'), peaks(0, C1_PEAKS),
        trace(1, C2_SUM, 0, 'Sum'), trace(1, C2_P1, 1, 'Port 1'), trace(1, C2_P2, 2, 'Port 2'), peaks(1, C2_PEAKS)
    ]
};
if (option && typeof option === "object") {
    myChart.setOption(option, true);
}
</script>
</body>
</html>
